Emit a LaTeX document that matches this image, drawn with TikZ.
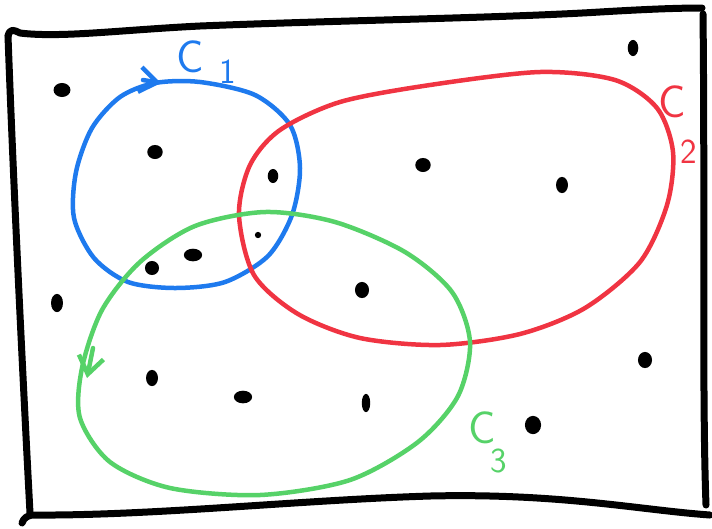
\documentclass[tikz,border=0pt]{standalone}
\usepackage{xcolor}
\usetikzlibrary{arrows.meta, positioning}

\definecolor{cblue}{RGB}{30,122,238}
\definecolor{cred}{RGB}{240,52,66}
\definecolor{cgreen}{RGB}{86,210,104}

\begin{document}
\begin{tikzpicture}[
  x=0.02cm, y=-0.02cm,
  frame/.style={line width=1.4mm, line cap=round, line join=round},
  clus/.style={line width=0.9mm, line cap=round},
  tip/.style={clus, -{Straight Barb[length=3.5mm, width=5mm]}},
  lab/.style={font=\sffamily\fontsize{26}{26}\selectfont, inner sep=0pt},
  sub/.style={font=\sffamily\fontsize{20}{20}\selectfont, inner sep=0pt}]
\useasboundingbox (0,0) rectangle (712,528);
% frame
\draw[frame] (8,36) .. controls (10,28) and (14,30) .. (20,33)
  .. controls (60,38) and (120,30) .. (200,26)
  .. controls (350,20) and (500,18) .. (600,12)
  .. controls (650,9) and (680,8) .. (702,8);
\draw[frame] (8,36) .. controls (14,200) and (24,400) .. (30,513);
\draw[frame] (703,14) .. controls (705,200) and (702,400) .. (706,505);
\draw[frame] (22,523) .. controls (24,517) and (28,516) .. (32,515)
  .. controls (150,516) and (300,500) .. (430,496)
  .. controls (560,493) and (640,510) .. (710,515);
% clusters
\draw[clus, cblue] plot[smooth cycle] coordinates {(200,82) (255,95) (290,125)
  (300,168) (292,215) (268,256) (225,282) (175,288) (128,282) (94,258)
  (74,218) (76,172) (92,128) (120,97) (155,83)};
\draw[clus, cred] plot[smooth cycle] coordinates {(540,72) (615,80) (657,108)
  (673,152) (667,205) (640,262) (585,308) (520,334) (440,345) (360,338)
  (298,314) (254,275) (239,215) (250,165) (280,130) (340,102) (430,85)};
\draw[clus, cgreen] plot[smooth cycle] coordinates {(265,212) (335,222)
  (405,252) (452,292) (470,342) (458,396) (418,442) (350,480) (260,495)
  (170,488) (110,462) (80,418) (82,368) (102,310) (140,262) (195,226)};
\draw[tip, cblue] (143,80) -- (161,83);
\draw[tip, cgreen] (93,348) -- (87,378);
% points
\foreach \px/\py/\rx/\ry in {62/90/4.8/4, 155/152/4.4/4, 273/176/3/4,
    423/165/4.4/4, 562/185/3.4/4.6, 633/48/3/4.6, 258/235/1.8/1.8,
    193/255/5.2/3.6, 152/268/4/4, 362/290/4/4.6, 57/303/3.4/5.2,
    645/360/4/4.6, 152/378/3.4/4.6, 243/397/5.2/3.6, 366/403/2.4/5.2,
    533/425/4.6/5.2}
  \fill (\px,\py) ellipse [x radius=\rx pt, y radius=\ry pt];
% labels
\node[lab, text=cblue] (c1) at (190,57) {C};
\node[sub, text=cblue] (c1n) at (228,72) {1};
\node[lab, text=cred] (c2) at (672,102) {C};
\node[sub, text=cred] (c2n) at (689,152) {2};
\node[lab, text=cgreen] (c3) at (482,428) {C};
\node[sub, text=cgreen] (c3n) at (499,461) {3};
\end{tikzpicture}
\end{document}
